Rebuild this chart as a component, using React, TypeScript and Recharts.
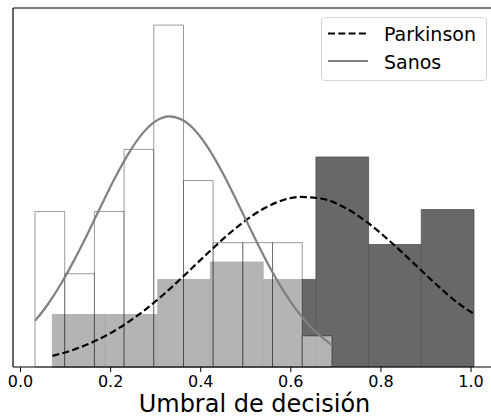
import React from 'react';
import {
  ComposedChart,
  Line,
  XAxis,
  YAxis,
  ReferenceArea,
  ReferenceLine,
  Legend,
} from 'recharts';

// Histogram bin edges and densities
const sanosEdges = [0.0322, 0.0981, 0.164, 0.2299, 0.2958, 0.3617, 0.4276, 0.4935, 0.5594, 0.6253, 0.6912];
const sanosDensity = [1.518, 0.911, 1.518, 2.125, 3.339, 1.821, 1.214, 1.214, 1.214, 0.304];

const parkEdges = [0.0706, 0.1876, 0.3046, 0.4216, 0.5386, 0.6556, 0.7726, 0.8896, 1.0066];
const parkDensity = [0.513, 0.513, 0.855, 1.025, 0.855, 2.051, 1.196, 1.538];

// Fitted curves
const sanosCurveX = [0.032, 0.06, 0.09, 0.12, 0.15, 0.18, 0.21, 0.24, 0.27, 0.3, 0.33, 0.36, 0.39, 0.42, 0.45, 0.48, 0.51, 0.54, 0.57, 0.6, 0.63, 0.66, 0.691];
const sanosCurveY = [0.45, 0.608, 0.813, 1.051, 1.312, 1.585, 1.85, 2.087, 2.277, 2.401, 2.448, 2.412, 2.298, 2.116, 1.884, 1.621, 1.349, 1.084, 0.843, 0.634, 0.46, 0.323, 0.216];

const parkCurveX = [0.071, 0.12, 0.17, 0.22, 0.27, 0.32, 0.37, 0.42, 0.47, 0.52, 0.57, 0.62, 0.67, 0.72, 0.77, 0.82, 0.87, 0.92, 0.97, 1.007];
const parkCurveY = [0.109, 0.172, 0.263, 0.384, 0.537, 0.718, 0.921, 1.13, 1.328, 1.494, 1.61, 1.661, 1.643, 1.556, 1.412, 1.228, 1.024, 0.818, 0.628, 0.518];

const xTicks = [0, 0.2, 0.4, 0.6, 0.8, 1.0];
const xDomain = [-0.0167, 1.0554];
const yDomain = [0, 3.506];
const seriesNames = ['Parkinson', 'Sanos'];
const xLabel = 'Umbral de decisión';

const sanosCurve = sanosCurveX.map((x, i) => ({ x, y: sanosCurveY[i] }));
const parkCurve = parkCurveX.map((x, i) => ({ x, y: parkCurveY[i] }));

const FONT = 'DejaVu Sans, Verdana, sans-serif';

const LegendBox = () => (
  <svg width={166} height={64} style={{ display: 'block' }}>
    <rect x={0.5} y={0.5} width={165} height={63} rx={3} ry={3} fill="#fff" fillOpacity={0.8} stroke="#d6d6d6" strokeWidth={1} />
    <line x1={7} x2={47} y1={16.5} y2={16.5} stroke="#000" strokeWidth={2.2} strokeDasharray="7 3.3" />
    <text x={63} y={24} fontSize={19} fontFamily={FONT} fill="#000">{seriesNames[0]}</text>
    <line x1={7} x2={47} y1={44} y2={44} stroke="#808080" strokeWidth={2.2} />
    <text x={63} y={52} fontSize={19} fontFamily={FONT} fill="#000">{seriesNames[1]}</text>
  </svg>
);

export default function App() {
  return (
    <div style={{ position: 'fixed', left: 0, top: 0, width: 491, height: 420, overflow: 'hidden', background: '#fff' }}>
      <ComposedChart width={500} height={420} margin={{ top: 8, left: 13, right: 4, bottom: 0 }}>
        <XAxis
          xAxisId={0}
          type="number"
          dataKey="x"
          domain={xDomain}
          allowDataOverflow
          ticks={xTicks}
          tickFormatter={(v: number) => v.toFixed(1)}
          tick={{ fontSize: 16, fill: '#000', fontFamily: FONT }}
          tickSize={5}
          tickMargin={4}
          tickLine={{ stroke: '#000', strokeWidth: 1 }}
          axisLine={{ stroke: '#000', strokeWidth: 1.2 }}
          height={53}
          label={{ value: xLabel, position: 'insideBottom', offset: 8, fontSize: 24, fill: '#000', fontFamily: FONT }}
        />
        <YAxis
          yAxisId={0}
          type="number"
          domain={yDomain}
          allowDataOverflow
          hide
          width={0}
        />
        {parkDensity.map((d, i) => (
          <ReferenceArea
            key={'p' + i}
            xAxisId={0}
            yAxisId={0}
            x1={parkEdges[i]}
            x2={parkEdges[i + 1]}
            y1={0}
            y2={d}
            fill="#686868"
            fillOpacity={1}
            stroke="#555"
            strokeWidth={0.8}
            ifOverflow="visible"
          />
        ))}
        {sanosDensity.map((d, i) => (
          <ReferenceArea
            key={'s' + i}
            xAxisId={0}
            yAxisId={0}
            x1={sanosEdges[i]}
            x2={sanosEdges[i + 1]}
            y1={0}
            y2={d}
            fill="#ffffff"
            fillOpacity={0.5}
            stroke="#000"
            strokeOpacity={0.4}
            strokeWidth={1}
            ifOverflow="visible"
          />
        ))}
        <ReferenceLine xAxisId={0} yAxisId={0} x={xDomain[0]} stroke="#000" strokeWidth={1.2} ifOverflow="visible" />
        <ReferenceLine xAxisId={0} yAxisId={0} y={yDomain[1]} stroke="#000" strokeWidth={1.2} ifOverflow="visible" />
        <Line
          xAxisId={0}
          yAxisId={0}
          data={parkCurve}
          dataKey="y"
          name={seriesNames[0]}
          type="monotone"
          stroke="#000"
          strokeWidth={2.2}
          strokeDasharray="7 3.3"
          dot={false}
          activeDot={false}
          isAnimationActive={false}
        />
        <Line
          xAxisId={0}
          yAxisId={0}
          data={sanosCurve}
          dataKey="y"
          name={seriesNames[1]}
          type="monotone"
          stroke="#808080"
          strokeWidth={2.2}
          dot={false}
          activeDot={false}
          isAnimationActive={false}
        />
        <Legend
          layout="horizontal"
          align="center"
          verticalAlign="middle"
          content={() => <LegendBox />}
          wrapperStyle={{ position: 'absolute', left: 321, top: 17, width: 166, height: 64, margin: 0, padding: 0 }}
        />
      </ComposedChart>
    </div>
  );
}
